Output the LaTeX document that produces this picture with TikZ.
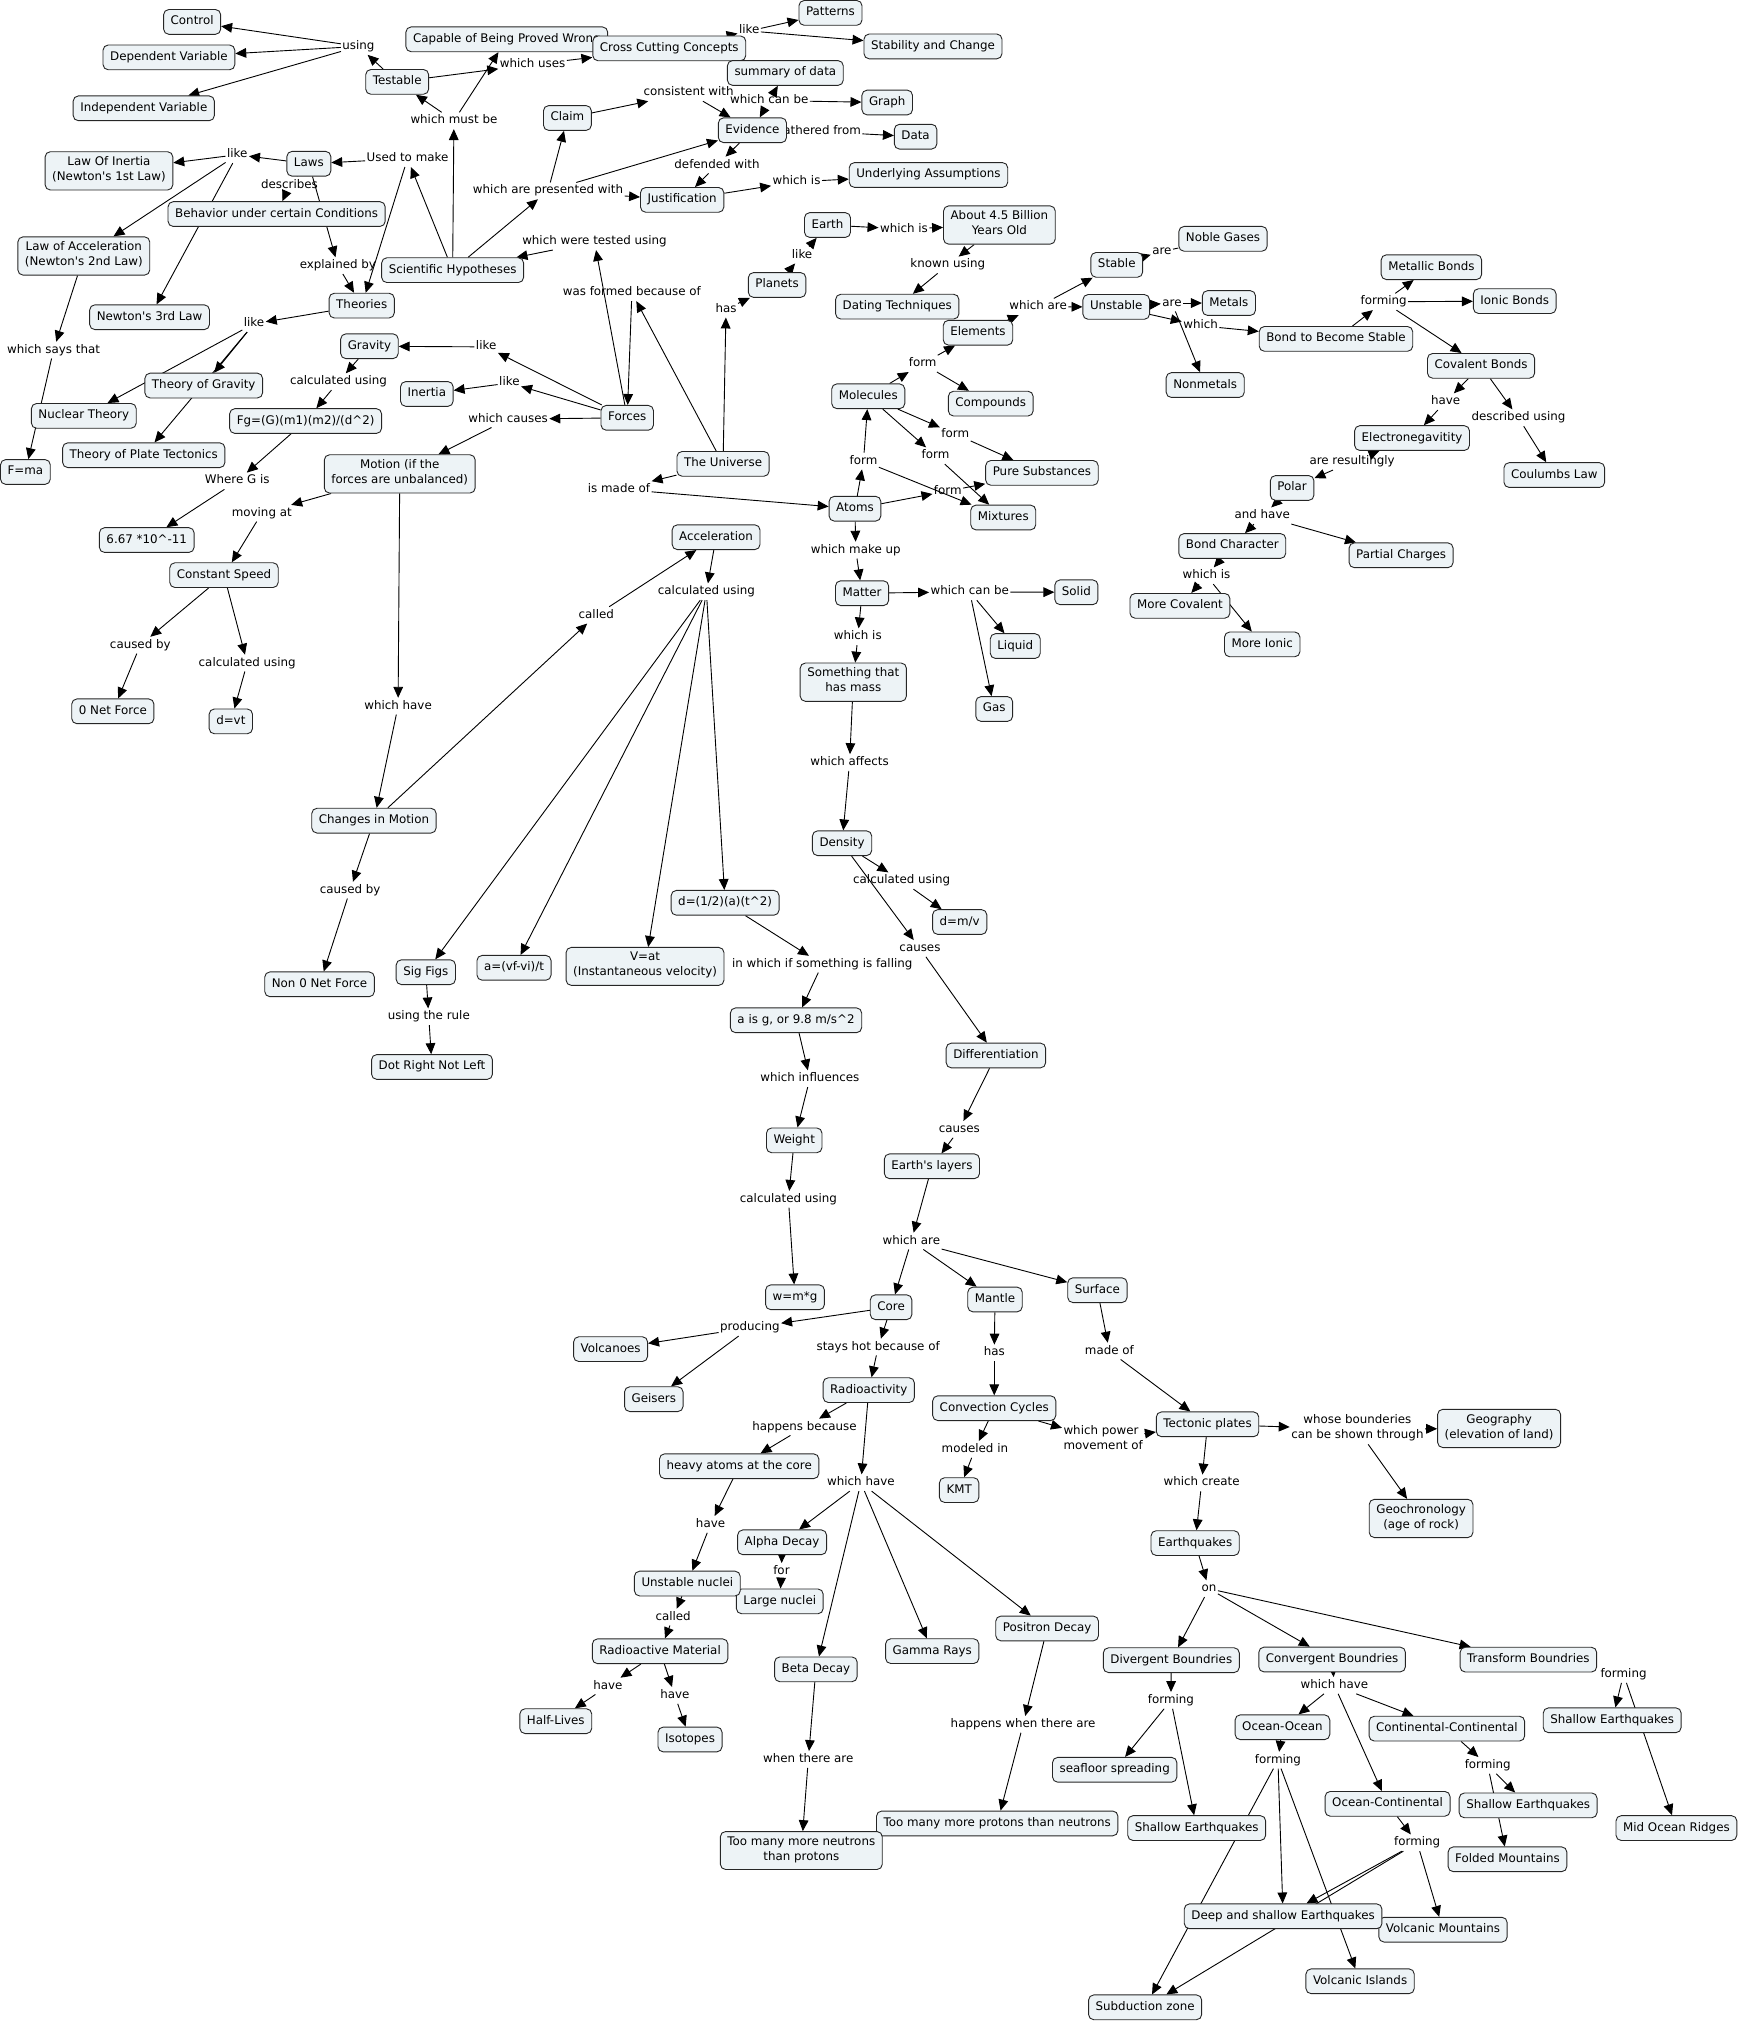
\documentclass[tikz,border=0pt]{standalone}
\usepackage{fontspec}
\setmainfont{DejaVu Sans}
\usetikzlibrary{arrows.meta}
\pgfdeclarelayer{bg}
\pgfsetlayers{bg,main}
\definecolor{cfill}{RGB}{237,243,246}
\newcommand\cmfont{\fontsize{9.2}{11.6}\selectfont}
\begin{document}
\begin{tikzpicture}[x=1pt,y=-1pt,
  concept/.style={draw=black!85, fill=cfill, rounded corners=4pt, line width=0.7pt, inner xsep=5.5pt, inner ysep=3.8pt, align=center, font=\cmfont, execute at begin node=\strut, execute at end node=\strut},
  lab/.style={inner xsep=1pt, inner ysep=0.5pt, align=center, font=\cmfont, execute at begin node=\strut, execute at end node=\strut},
  link/.style={line width=0.7pt, black},
  arr/.style={link,-{Triangle[length=8.5pt,width=7.5pt]}}]
\useasboundingbox (0,0) rectangle (1352,1568);
% label lying under a concept
\node[lab] (lgathered) at (634.6,102) {gathered from};
% concepts
\node[concept] (control) at (149,17) {Control};
\node[concept] (depvar) at (131,44.5) {Dependent Variable};
\node[concept] (indvar) at (111.5,84) {Independent Variable};
\node[concept] (testable) at (308,63.5) {Testable};
\node[concept] (capable) at (393,30.5) {Capable of Being Proved Wrong};
\node[concept] (ccc) at (519,37.5) {Cross Cutting Concepts};
\node[concept] (patterns) at (644,10) {Patterns};
\node[concept] (stability) at (723.5,36) {Stability and Change};
\node[concept] (summary) at (609,56.6) {summary of data};
\node[concept] (graph) at (688,79.5) {Graph};
\node[concept] (claim) at (440,91.5) {Claim};
\node[concept] (evidence) at (583.5,101) {Evidence};
\node[concept] (data) at (710,106) {Data};
\node[concept] (ua) at (720,135.7) {Underlying Assumptions};
\node[concept] (justif) at (529,155) {Justification};
\node[concept] (laws) at (239.5,127) {Laws};
\node[concept] (loi) at (84.5,132.5) {Law Of Inertia\\(Newton\textquotesingle s 1st Law)};
\node[concept] (behavior) at (214.5,166) {Behavior under certain Conditions};
\node[concept] (loa) at (65,198.5) {Law of Acceleration\\(Newton\textquotesingle s 2nd Law)};
\node[concept] (scihyp) at (351,209.5) {Scientific Hypotheses};
\node[concept] (theories) at (280.5,237) {Theories};
\node[concept] (n3) at (116,246) {Newton\textquotesingle s 3rd Law};
\node[concept] (gravity) at (286.5,268.5) {Gravity};
\node[concept] (tog) at (158,299) {Theory of Gravity};
\node[concept] (inertia) at (331,305.5) {Inertia};
\node[concept] (nuclear) at (65,322.5) {Nuclear Theory};
\node[concept] (fg) at (237,326.5) {Fg=(G)(m1)(m2)/(d\textasciicircum{}2)};
\node[concept] (forces) at (486.4,324) {Forces};
\node[concept] (tpt) at (111.5,353) {Theory of Plate Tectonics};
\node[concept] (fma) at (19.7,366) {F=ma};
\node[concept] (motion) at (310,367.5) {Motion (if the\\forces are unbalanced)};
\node[concept] (universe) at (560.7,359.7) {The Universe};
\node[concept] (planets) at (602.6,221) {Planets};
\node[concept] (earth) at (641.7,174.5) {Earth};
\node[concept] (billion) at (775,174.5) {About 4.5 Billion\\Years Old};
\node[concept] (dating) at (695.8,237.8) {Dating Techniques};
\node[concept] (elements) at (758.4,258) {Elements};
\node[concept] (stable) at (866,205.4) {Stable};
\node[concept] (noble) at (948.4,185.2) {Noble Gases};
\node[concept] (unstable) at (865.6,238) {Unstable};
\node[concept] (metals) at (953,235) {Metals};
\node[concept] (bond) at (1036,262.8) {Bond to Become Stable};
\node[concept] (nonmetals) at (934.6,298.6) {Nonmetals};
\node[concept] (metallic) at (1110,207.2) {Metallic Bonds};
\node[concept] (ionic) at (1174.6,233.5) {Ionic Bonds};
\node[concept] (covalent) at (1148.5,283.7) {Covalent Bonds};
\node[concept] (electroneg) at (1095,339.7) {Electronegavitity};
\node[concept] (coulumbs) at (1205.3,368.4) {Coulumbs Law};
\node[concept] (polar) at (1002,378.4) {Polar};
\node[concept] (bondchar) at (955.6,423.4) {Bond Character};
\node[concept] (partial) at (1086.5,430.6) {Partial Charges};
\node[concept] (morecov) at (915,469.8) {More Covalent};
\node[concept] (moreion) at (978.8,499.7) {More Ionic};
\node[concept] (molecules) at (673.3,307.3) {Molecules};
\node[concept] (compounds) at (768.3,313) {Compounds};
\node[concept] (puresub) at (808,366.7) {Pure Substances};
\node[concept] (mixtures) at (778,401.3) {Mixtures};
\node[concept] (atoms) at (663,394.5) {Atoms};
\node[concept] (matter) at (668.5,460) {Matter};
\node[concept] (solid) at (834.7,459.3) {Solid};
\node[concept] (liquid) at (787.3,501) {Liquid};
\node[concept] (gas) at (771,549.8) {Gas};
\node[concept] (something) at (661.7,529) {Something that\\has mass};
\node[concept] (density) at (653,653.9) {Density};
\node[concept] (dmv) at (744.2,715) {d=m/v};
\node[concept] (diff) at (772.3,818.5) {Differentiation};
\node[concept] (layers) at (722.7,904.4) {Earth\textquotesingle s layers};
\node[concept] (accel) at (555.3,416.6) {Acceleration};
\node[concept] (changes) at (290,636.4) {Changes in Motion};
\node[concept] (non0) at (247.8,763.3) {Non 0 Net Force};
\node[concept] (sigfigs) at (330.2,753.9) {Sig Figs};
\node[concept] (dotright) at (335,827.4) {Dot Right Not Left};
\node[concept] (avf) at (398.6,750.5) {a=(vf-vi)/t};
\node[concept] (vat) at (500.2,749.4) {V=at\\(Instantaneous velocity)};
\node[concept] (dhalf) at (562.3,700.1) {d=(1/2)(a)(t\textasciicircum{}2)};
\node[concept] (aisg) at (617.3,791.2) {a is g, or 9.8 m/s\textasciicircum{}2};
\node[concept] (weight) at (615.9,884.3) {Weight};
\node[concept] (wmg) at (616.5,1006) {w=m*g};
\node[concept] (six67) at (113.8,418.8) {6.67 *10\textasciicircum{}-11};
\node[concept] (constspeed) at (173.7,446) {Constant Speed};
\node[concept] (zeronet) at (87.5,551.6) {0 Net Force};
\node[concept] (dvt) at (179,559.4) {d=vt};
\node[concept] (core) at (691,1013.7) {Core};
\node[concept] (volcanoes) at (473.5,1046.2) {Volcanoes};
\node[concept] (geisers) at (507,1085) {Geisers};
\node[concept] (mantle) at (771.6,1007.7) {Mantle};
\node[concept] (surface) at (851,1000.5) {Surface};
\node[concept] (radio) at (673.7,1078) {Radioactivity};
\node[concept] (convection) at (771,1092) {Convection Cycles};
\node[concept] (tectonic) at (936.4,1104.5) {Tectonic plates};
\node[concept] (geography) at (1162.5,1107.7) {Geography\\(elevation of land)};
\node[concept] (kmt) at (743.8,1155.5) {KMT};
\node[concept] (heavy) at (573.2,1137) {heavy atoms at the core};
\node[concept] (geochron) at (1102,1177.5) {Geochronology\\(age of rock)};
\node[concept] (earthquakes) at (926.8,1196.6) {Earthquakes};
\node[concept] (alpha) at (606.5,1196) {Alpha Decay};
\node[concept] (largenuc) at (604.7,1241.8) {Large nuclei};
\node[concept] (unstnuc) at (533,1228) {Unstable nuclei};
\node[concept] (positron) at (812,1262.8) {Positron Decay};
\node[concept] (radmat) at (511.9,1280.5) {Radioactive Material};
\node[concept] (gamma) at (722.9,1280.4) {Gamma Rays};
\node[concept] (divergent) at (908.3,1287.4) {Divergent Boundries};
\node[concept] (convergent) at (1033,1286.9) {Convergent Boundries};
\node[concept] (transform) at (1185.2,1287) {Transform Boundries};
\node[concept] (beta) at (632.7,1294.5) {Beta Decay};
\node[concept] (halflives) at (431,1334.7) {Half-Lives};
\node[concept] (isotopes) at (535.1,1348.9) {Isotopes};
\node[concept] (shallowT) at (1250.2,1334) {Shallow Earthquakes};
\node[concept] (oceanocean) at (994.5,1339.4) {Ocean-Ocean};
\node[concept] (contcont) at (1122,1340.5) {Continental-Continental};
\node[concept] (seafloor) at (864.4,1372.4) {seafloor spreading};
\node[concept] (oceancont) at (1076,1398.8) {Ocean-Continental};
\node[concept] (shallowCC) at (1185,1400) {Shallow Earthquakes};
\node[concept] (protons) at (773.3,1414) {Too many more protons than neutrons};
\node[concept] (shallowD) at (928,1417.6) {Shallow Earthquakes};
\node[concept] (midocean) at (1300,1417.6) {Mid Ocean Ridges};
\node[concept] (neutrons) at (621.4,1435) {Too many more neutrons\\than protons};
\node[concept] (folded) at (1169,1441.8) {Folded Mountains};
\node[concept] (volcmount) at (1119,1496.4) {Volcanic Mountains};
\node[concept] (deep) at (995,1486) {Deep and shallow Earthquakes};
\node[concept] (volcisl) at (1054.7,1536.4) {Volcanic Islands};
\node[concept] (subduction) at (888,1556.6) {Subduction zone};
% linking phrases
\node[lab] (lusing) at (278,36) {using};
\node[lab] (lwhichuses) at (413,50) {which uses};
\node[lab] (lmustbe) at (352,93.6) {which must be};
\node[lab] (llikeccc) at (581,24) {like};
\node[lab] (lconsistent) at (534,72) {consistent with};
\node[lab] (lcanbe) at (596.5,78) {which can be};
\node[lab] (ldefended) at (556,128) {defended with};
\node[lab] (lwhichisUA) at (617.7,141) {which is};
\node[lab] (lpresented) at (425,148) {which are presented with};
\node[lab] (llikelaws) at (184,120) {like};
\node[lab] (lusedto) at (316,123) {Used to make};
\node[lab] (ldescribes) at (224.5,143.5) {describes};
\node[lab] (lexplained) at (262,206) {explained by};
\node[lab] (ltested) at (461,187.4) {which were tested using};
\node[lab] (llikeTh) at (197,251) {like};
\node[lab] (lsaysthat) at (41.5,271.5) {which says that};
\node[lab] (llikegrav) at (377,269) {like};
\node[lab] (lcalcgrav) at (262.5,296) {calculated using};
\node[lab] (llikeinertia) at (395,297) {like};
\node[lab] (lcauses) at (394,325) {which causes};
\node[lab] (lwhereG) at (184,373) {Where G is};
\node[lab] (lformed) at (490,227) {was formed because of};
\node[lab] (lhas) at (563,239.7) {has};
\node[lab] (lmadeof) at (480,379.3) {is made of};
\node[lab] (llikeplanets) at (622,197.8) {like};
\node[lab] (lwhichisEarth) at (701,177.6) {which is};
\node[lab] (lknown) at (735,205.5) {known using};
\node[lab] (lformE) at (715.5,282) {form};
\node[lab] (lformPS) at (740.8,336.6) {form};
\node[lab] (lformMix) at (725.5,353.4) {form};
\node[lab] (lformMol) at (669.6,357.5) {form};
\node[lab] (lformAt) at (735,380.8) {form};
\node[lab] (lwhichare) at (805,237.9) {which are};
\node[lab] (larestable) at (901,195) {are};
\node[lab] (lareunst) at (908.8,235) {are};
\node[lab] (lwhich) at (931,252.6) {which};
\node[lab] (lforming) at (1073,234) {forming};
\node[lab] (lhave) at (1121,311.5) {have};
\node[lab] (ldescribed) at (1177.5,324) {described using};
\node[lab] (lresultingly) at (1048.5,358) {are resultingly};
\node[lab] (landhave) at (978.8,400) {and have};
\node[lab] (lwhichisBC) at (935.6,446.5) {which is};
\node[lab] (lmakeup) at (663.6,426.6) {which make up};
\node[lab] (lcanbeM) at (752,459) {which can be};
\node[lab] (lwhichisM) at (665.2,493.8) {which is};
\node[lab] (laffects) at (658.8,591.3) {which affects};
\node[lab] (lcalcD) at (699.2,683) {calculated using};
\node[lab] (lcausesD) at (713.4,735.5) {causes};
\node[lab] (lcausesDiff) at (743.9,875.8) {causes};
\node[lab] (lwhichareL) at (706.7,962.4) {which are};
\node[lab] (lmoving) at (203,398) {moving at};
\node[lab] (lcausedCS) at (108.8,500.3) {caused by};
\node[lab] (lcalcCS) at (191.7,514.2) {calculated using};
\node[lab] (lwhichhave) at (308.7,547.6) {which have};
\node[lab] (lcalled) at (462.4,477) {called};
\node[lab] (lcausedCM) at (271.5,690.3) {caused by};
\node[lab] (lcalcA) at (547.8,458.9) {calculated using};
\node[lab] (lusingrule) at (332.5,788.5) {using the rule};
\node[lab] (lfalling) at (637.6,747.7) {in which if something is falling};
\node[lab] (linfluences) at (628,836.5) {which influences};
\node[lab] (lcalcW) at (611.4,930) {calculated using};
\node[lab] (lproducing) at (581.5,1029.6) {producing};
\node[lab] (lstayshot) at (681,1044.6) {stays hot because of};
\node[lab] (lhasM) at (771,1049.2) {has};
\node[lab] (lmadeofS) at (860.3,1047.7) {made of};
\node[lab, align=left] (lpower) at (855.5,1116.5) {which power\\movement of};
\node[lab] (lwhose) at (1052.6,1108.3) {whose bounderies\\can be shown through};
\node[lab] (lmodeled) at (756,1124) {modeled in};
\node[lab] (lhappens) at (623.8,1106.6) {happens because};
\node[lab] (lwhichhaveR) at (667.6,1149.8) {which have};
\node[lab] (lcreate) at (931.8,1150) {which create};
\node[lab] (lhaveH) at (551,1182.1) {have};
\node[lab] (lfor) at (606,1218.6) {for};
\node[lab] (lon) at (937.5,1232) {on};
\node[lab] (lcalledU) at (522,1254) {called};
\node[lab] (lhaveHL) at (471.4,1307.5) {have};
\node[lab] (lhaveIso) at (523.3,1314.7) {have};
\node[lab] (lwhichhaveC) at (1034.8,1307) {which have};
\node[lab] (lformingD) at (908,1318.6) {forming};
\node[lab] (lhappenswhen) at (793.4,1337.2) {happens when there are};
\node[lab] (lformingOO) at (991,1365) {forming};
\node[lab] (lwhenthere) at (626.8,1364.4) {when there are};
\node[lab] (lformingCC) at (1153.7,1369) {forming};
\node[lab] (lformingOC) at (1099,1429) {forming};
\node[lab] (lformingT) at (1259,1298.5) {forming};
% connectors
\begin{pgfonlayer}{bg}
\foreach \a/\b in {lusing/control, lusing/depvar, lusing/indvar, testable/lusing, testable/lwhichuses, lwhichuses/ccc, lmustbe/testable, lmustbe/capable, scihyp/lmustbe, scihyp/lusedto, lusedto/laws, lusedto/theories, laws/llikelaws, llikelaws/loi, llikelaws/loa, llikelaws/n3, ldescribes/behavior, laws/lexplained, lexplained/theories, theories/llikeTh, llikeTh/tog, llikeTh/nuclear, llikeTh/tpt, loa/lsaysthat, lsaysthat/fma, gravity/lcalcgrav, lcalcgrav/fg, fg/lwhereG, lwhereG/six67, forces/llikegrav, llikegrav/gravity, forces/llikeinertia, llikeinertia/inertia, forces/lcauses, lcauses/motion, motion/lmoving, lmoving/constspeed, constspeed/lcausedCS, lcausedCS/zeronet, constspeed/lcalcCS, lcalcCS/dvt, motion/lwhichhave, lwhichhave/changes, changes/lcalled, lcalled/accel, changes/lcausedCM, lcausedCM/non0, accel/lcalcA, lcalcA/sigfigs, lcalcA/avf, lcalcA/vat, lcalcA/dhalf, sigfigs/lusingrule, lusingrule/dotright, dhalf/lfalling, lfalling/aisg, aisg/linfluences, linfluences/weight, weight/lcalcW, lcalcW/wmg, scihyp/lpresented, lpresented/claim, lpresented/evidence, lpresented/justif, claim/lconsistent, lconsistent/evidence, lcanbe/summary, lcanbe/evidence, lcanbe/graph, lgathered/data, evidence/ldefended, ldefended/justif, justif/lwhichisUA, lwhichisUA/ua, ccc/llikeccc, llikeccc/patterns, llikeccc/stability, universe/lformed, lformed/forces, forces/ltested, ltested/scihyp, universe/lhas, lhas/planets, planets/llikeplanets, llikeplanets/earth, earth/lwhichisEarth, lwhichisEarth/billion, billion/lknown, lknown/dating, universe/lmadeof, lmadeof/atoms, atoms/lformMol, lformMol/molecules, lformMol/mixtures, molecules/lformE, lformE/elements, lformE/compounds, molecules/lformPS, lformPS/puresub, molecules/lformMix, lformMix/mixtures, atoms/lformAt, lformAt/puresub, elements/lwhichare, lwhichare/stable, lwhichare/unstable, stable/larestable, unstable/lareunst, lareunst/metals, lareunst/nonmetals, unstable/lwhich, lwhich/bond, bond/lforming, lforming/metallic, lforming/ionic, lforming/covalent, covalent/lhave, lhave/electroneg, covalent/ldescribed, ldescribed/coulumbs, lresultingly/electroneg, lresultingly/polar, polar/landhave, landhave/bondchar, landhave/partial, bondchar/lwhichisBC, lwhichisBC/morecov, lwhichisBC/moreion, atoms/lmakeup, lmakeup/matter, matter/lcanbeM, lcanbeM/solid, lcanbeM/liquid, lcanbeM/gas, matter/lwhichisM, lwhichisM/something, something/laffects, laffects/density, density/lcalcD, lcalcD/dmv, density/lcausesD, lcausesD/diff, diff/lcausesDiff, lcausesDiff/layers, layers/lwhichareL, lwhichareL/core, lwhichareL/mantle, lwhichareL/surface, core/lproducing, lproducing/volcanoes, lproducing/geisers, core/lstayshot, lstayshot/radio, mantle/lhasM, lhasM/convection, surface/lmadeofS, lmadeofS/tectonic, convection/lpower, lpower/tectonic, convection/lmodeled, lmodeled/kmt, radio/lhappens, lhappens/heavy, heavy/lhaveH, lhaveH/unstnuc, unstnuc/lcalledU, lcalledU/radmat, radmat/lhaveHL, lhaveHL/halflives, radmat/lhaveIso, lhaveIso/isotopes, radio/lwhichhaveR, lwhichhaveR/alpha, lwhichhaveR/beta, lwhichhaveR/gamma, lwhichhaveR/positron, alpha/lfor, lfor/largenuc, beta/lwhenthere, lwhenthere/neutrons, positron/lhappenswhen, lhappenswhen/protons, tectonic/lwhose, lwhose/geography, lwhose/geochron, tectonic/lcreate, lcreate/earthquakes, earthquakes/lon, lon/divergent, lon/convergent, lon/transform, divergent/lformingD, lformingD/seafloor, lformingD/shallowD, convergent/lwhichhaveC, lwhichhaveC/oceanocean, lwhichhaveC/contcont, lwhichhaveC/oceancont, oceanocean/lformingOO, lformingOO/deep, lformingOO/volcisl, lformingOO/subduction, contcont/lformingCC, lformingCC/shallowCC, lformingCC/folded, oceancont/lformingOC, lformingOC/deep, lformingOC/subduction, lformingOC/volcmount, lformingT/shallowT, lformingT/midocean}
  \draw[arr] (\a) -- (\b);
\draw[link] (laws) -- (ldescribes);
\draw[link] (larestable) -- (noble);
\end{pgfonlayer}
\end{tikzpicture}
\end{document}
